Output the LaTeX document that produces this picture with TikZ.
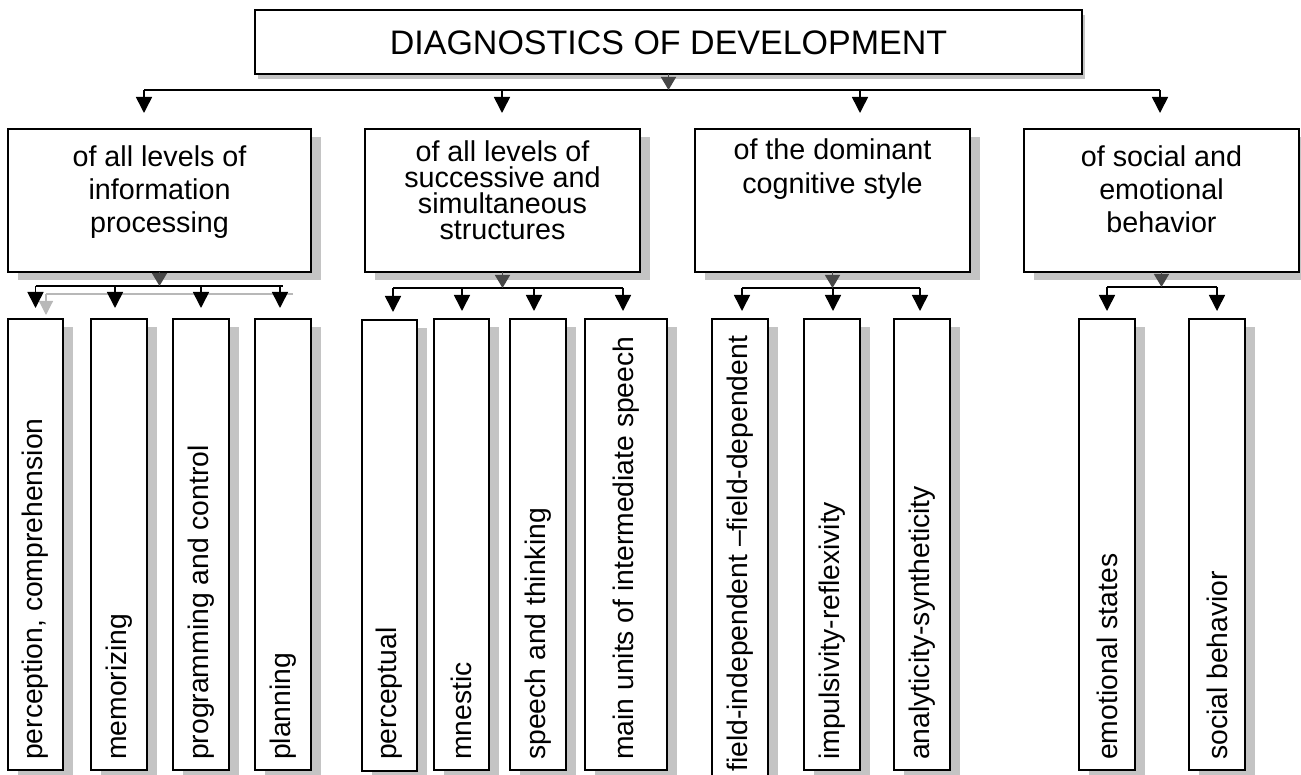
\documentclass[tikz,border=0pt]{standalone}
\usepackage{fontspec}
\setmainfont{Liberation Sans}
\usetikzlibrary{arrows.meta,shadows}

\begin{document}
\begin{tikzpicture}[x=1pt,y=-1pt,
  shadowfill/.style={fill=black!23, draw=none, opacity=1},
  box/.style={draw=black, line width=1.6pt, fill=white, inner sep=0pt, outer sep=0pt,
    drop shadow={shadow xshift=10pt, shadow yshift=-8pt, shadowfill}},
  titlebox/.style={draw=black, line width=1.6pt, fill=white, inner sep=0pt, outer sep=0pt,
    drop shadow={shadow xshift=3pt, shadow yshift=-5pt, shadowfill}},
  midbox/.style={box, minimum height=143pt},
  leaf/.style={box, minimum height=451pt},
  titletext/.style={inner sep=0pt, font=\fontsize{34}{38}\selectfont},
  midtext/.style={inner sep=0pt, align=center, font=\fontsize{28.7}{33}\selectfont},
  leaftext/.style={inner sep=0pt, rotate=90, anchor=west, font=\fontsize{28.3}{33}\selectfont},
  bus/.style={line width=1.6pt},
  arr/.style={line width=1.6pt, -{Triangle[width=16pt,length=16pt]}},
  ghostarr/.style={line width=1.2pt, black!28, -{Triangle[width=14pt,length=14pt]}},
  joint/.style={line width=1.6pt, black!72, -{Triangle[width=15pt,length=13pt]}},
]
\clip (0,0) rectangle (1301,775);

% ---- root ----
\node[titlebox, minimum width=827pt, minimum height=64pt] (root) at (668.5,42) {};
\node[titletext] (roottext) at (668.5,43) {DIAGNOSTICS OF DEVELOPMENT};

% ---- second level ----
\node[midbox, minimum width=303pt] (b1) at (159.5,200.5) {};
\node[midbox, minimum width=275pt] (b2) at (502.5,200.5) {};
\node[midbox, minimum width=275pt] (b3) at (832.5,200.5) {};
\node[midbox, minimum width=275pt] (b4) at (1161.5,200.5) {};

\node[midtext] (t1) at (159.5,192.5) {of all levels of\\information\\processing};
\node[midtext, font=\fontsize{28.7}{26}\selectfont] (t2) at (502.5,190.5) {of all levels of\\successive and\\simultaneous\\structures};
\node[midtext, font=\fontsize{28.7}{34}\selectfont] (t3) at (832.5,169.5) {of the dominant\\cognitive style};
\node[midtext] (t4) at (1161.5,189.5) {of social and\\emotional\\behavior};

% ---- leaves ----
\node[leaf, minimum width=55pt] (pc) at (35.5,544.5) {};
\node[leaf, minimum width=56pt] (mem) at (119,544.5) {};
\node[leaf, minimum width=56pt] (prog) at (201,544.5) {};
\node[leaf, minimum width=56pt] (plan) at (283,544.5) {};

\node[leaf, minimum width=55pt, minimum height=451pt] (perc) at (389.5,545.5) {};
\node[leaf, minimum width=55pt] (mnes) at (461.5,544.5) {};
\node[leaf, minimum width=56pt] (speech) at (538,544.5) {};
\node[leaf, minimum width=82pt] (units) at (626,544.5) {};

\node[box, minimum width=56pt, minimum height=481pt] (field) at (740,559.5) {};
\node[leaf, minimum width=56pt] (impul) at (832,544.5) {};
\node[leaf, minimum width=56pt] (anal) at (922,544.5) {};

\node[leaf, minimum width=56pt] (emot) at (1107,544.5) {};
\node[leaf, minimum width=56pt] (soc) at (1217,544.5) {};

\node[leaftext] (tpc) at (35.5,760) {perception, comprehension};
\node[leaftext] (tmem) at (119,760) {memorizing};
\node[leaftext] (tprog) at (201,760) {programming and control};
\node[leaftext] (tplan) at (283,760) {planning};
\node[leaftext] (tperc) at (389.5,760) {perceptual};
\node[leaftext] (tmnes) at (461.5,760) {mnestic};
\node[leaftext] (tspeech) at (538,760) {speech and thinking};
\node[leaftext] (tunits) at (626,760) {main units of intermediate speech};
\node[leaftext] (tfield) at (740,772) {field-independent --field-dependent};
\node[leaftext] (timpul) at (832,760) {impulsivity-reflexivity};
\node[leaftext] (tanal) at (922,760) {analyticity-syntheticity};
\node[leaftext] (temot) at (1107,760) {emotional states};
\node[leaftext] (tsoc) at (1217,760) {social behavior};

% ---- root to second level ----
\coordinate (r0) at (668.5,90);
\coordinate (r1) at (144,90);
\coordinate (r2) at (502,90);
\coordinate (r3) at (860,90);
\coordinate (r4) at (1160,90);
\draw[bus] (r1) -- (r4);
\draw[joint] (root.south) -- (r0);
\foreach \k/\b in {r1/b1, r2/b2, r3/b3, r4/b4}
  \draw[arr, shorten >=16pt] (\k) -- (\k |- \b.north);

% ---- group 1 ----
\coordinate (g1) at (159.5,286);
\coordinate (g1a) at (35.5,286);
\coordinate (g1b) at (115,286);
\coordinate (g1c) at (201,286);
\coordinate (g1d) at (280,286);
\coordinate (g1e) at (283,286);
\coordinate (h1a) at (46,294);
\coordinate (h1e) at (293,294);
\draw[line width=1.2pt, black!28] (h1e) -- (h1a);
\draw[ghostarr, shorten >=4pt] (h1a) -- (h1a |- pc.north);
\draw[bus] (g1a) -- (g1e);
\draw[joint] (b1.south) -- (g1);
\foreach \k/\b in {g1a/pc, g1b/mem, g1c/prog, g1d/plan}
  \draw[arr, shorten >=11pt] (\k) -- (\k |- \b.north);

% ---- group 2 ----
\coordinate (g2) at (502.5,288);
\coordinate (g2a) at (393,288);
\coordinate (g2b) at (462,288);
\coordinate (g2c) at (534,288);
\coordinate (g2d) at (623,288);
\draw[bus] (g2a) -- (g2d);
\draw[joint] (b2.south) -- (g2);
\foreach \k/\b in {g2a/perc, g2b/mnes, g2c/speech, g2d/units}
  \draw[arr, shorten >=8pt] (\k) -- (\k |- \b.north);

% ---- group 3 ----
\coordinate (g3) at (832.5,288);
\coordinate (g3a) at (742,288);
\coordinate (g3b) at (833,288);
\coordinate (g3c) at (920,288);
\draw[bus] (g3a) -- (g3c);
\draw[joint] (b3.south) -- (g3);
\foreach \k/\b in {g3a/field, g3b/impul, g3c/anal}
  \draw[arr, shorten >=8pt] (\k) -- (\k |- \b.north);

% ---- group 4 ----
\coordinate (g4) at (1161.5,287);
\coordinate (g4a) at (1107,287);
\coordinate (g4b) at (1217,287);
\draw[bus] (g4a) -- (g4b);
\draw[joint] (b4.south) -- (g4);
\foreach \k/\b in {g4a/emot, g4b/soc}
  \draw[arr, shorten >=8pt] (\k) -- (\k |- \b.north);

\end{tikzpicture}
\end{document}
